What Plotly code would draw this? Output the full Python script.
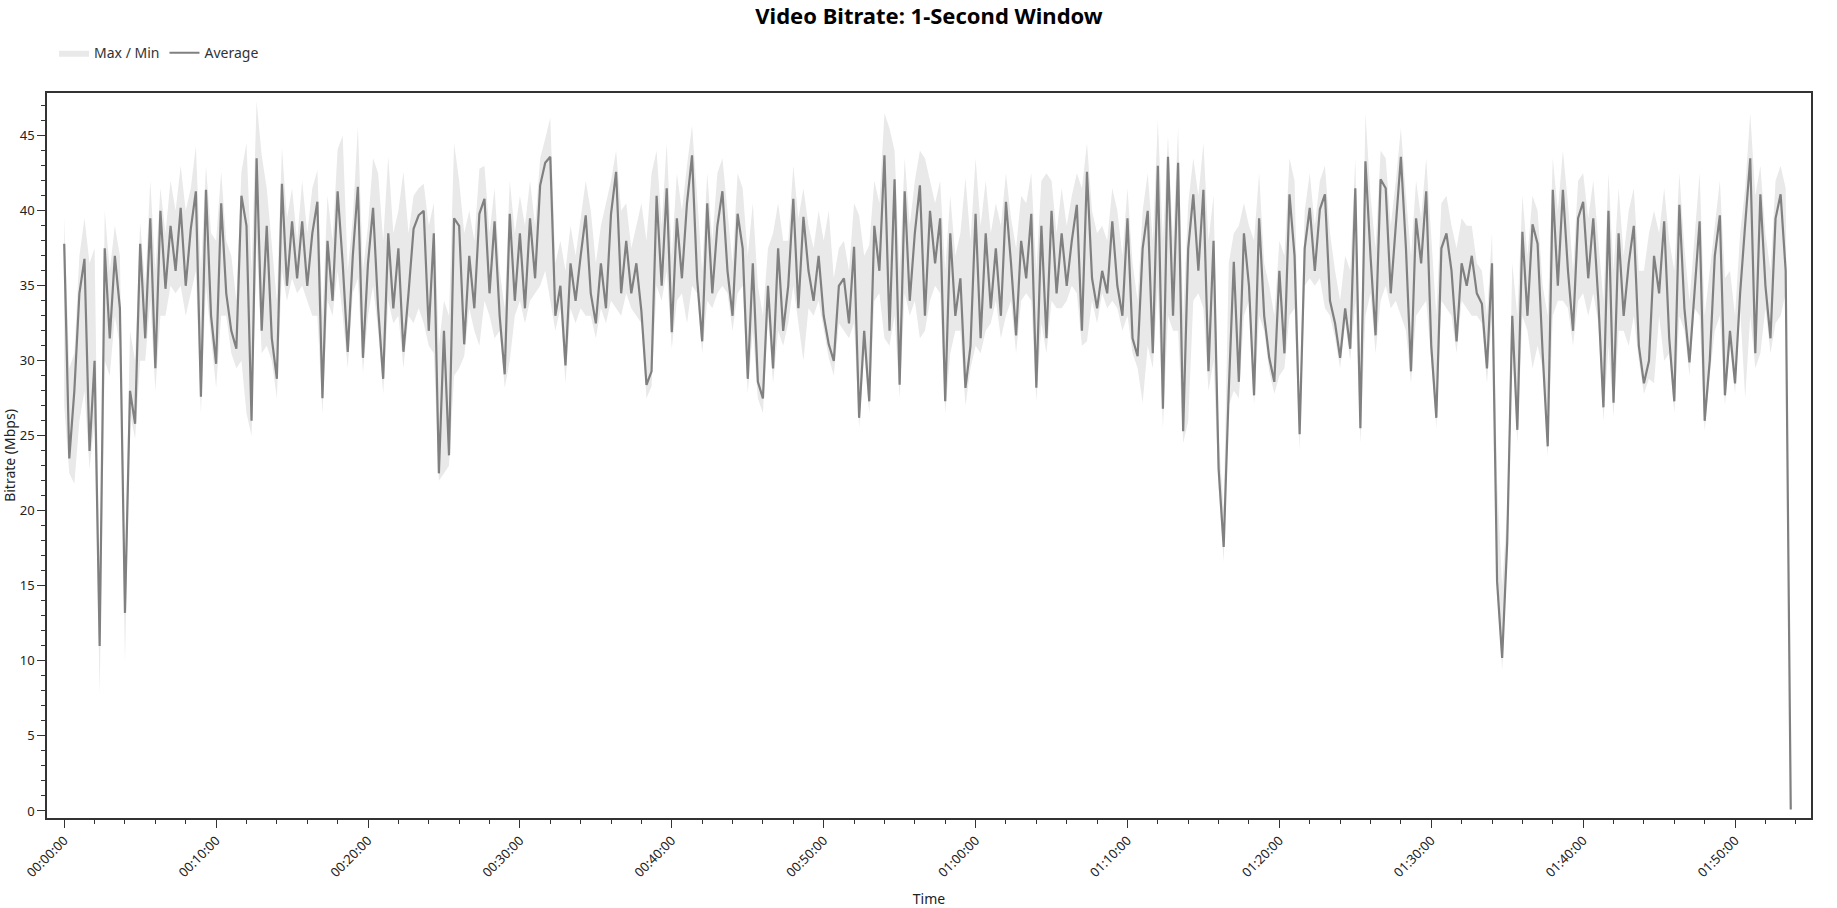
import pandas as pd
import plotly.graph_objects as go

STEP_SECONDS = 20

avg_mbps = [
    37.8, 23.5, 28.0, 34.5, 36.8, 24.0, 30.0, 11.0, 37.5, 31.5, 37.0, 33.5, 13.2, 28.0, 25.8, 37.8, 31.5, 39.5,
    29.5, 40.0, 34.8, 39.0, 36.0, 40.2, 35.0, 38.8, 41.3, 27.6, 41.4, 33.0, 29.8, 40.5, 34.5, 32.0, 30.8,
    41.0, 39.0, 26.0, 43.5, 32.0, 39.0, 31.5, 28.8, 41.8, 35.0, 39.3, 35.5, 39.3, 35.0, 38.5, 40.6, 27.5, 38.0,
    34.0, 41.3, 36.5, 30.6, 37.0, 41.6, 30.2, 36.5, 40.2, 33.5, 28.8, 38.5, 33.5, 37.5, 30.6, 34.5, 38.8, 39.7,
    40.0, 32.0, 38.5, 22.5, 32.0, 23.7, 39.5, 39.0, 31.1, 37.0, 33.5, 39.8, 40.8, 34.5, 39.3, 33.0, 29.1,
    39.8, 34.0, 38.5, 33.5, 39.5, 35.5, 41.7, 43.2, 43.6, 33.0, 35.0, 29.7, 36.5, 34.0, 37.0, 39.7, 34.5,
    32.5, 36.5, 33.5, 39.8, 42.6, 34.5, 38.0, 34.5, 36.5, 33.3, 28.4, 29.3, 41.0, 35.0, 41.5, 31.9, 39.5, 35.5,
    40.5, 43.7, 35.5, 31.3, 40.5, 34.5, 39.0, 41.3, 36.0, 33.0, 39.8, 37.5, 28.8, 36.5, 28.6, 27.5, 35.0,
    29.5, 37.5, 32.0, 35.0, 40.8, 33.5, 39.6, 36.0, 34.0, 37.0, 33.0, 31.1, 30.0, 35.0, 35.5, 32.5, 37.6, 26.2,
    32.0, 27.3, 39.0, 36.0, 43.7, 32.0, 42.1, 28.4, 41.3, 34.0, 38.5, 41.7, 33.0, 40.0, 36.5, 39.5, 27.3,
    38.5, 33.0, 35.5, 28.2, 31.0, 39.8, 31.5, 38.5, 33.5, 37.5, 33.0, 40.6, 36.5, 31.7, 38.0, 35.5, 39.8,
    28.2, 39.0, 31.5, 40.0, 34.5, 38.5, 35.0, 38.0, 40.4, 32.0, 42.6, 35.5, 33.5, 36.0, 34.5, 39.3, 35.0,
    33.0, 39.5, 31.5, 30.3, 37.5, 40.0, 30.5, 43.0, 26.8, 43.6, 33.0, 43.2, 25.3, 37.5, 41.1, 36.0, 41.4, 29.3,
    38.0, 22.8, 17.6, 28.0, 36.6, 28.6, 38.5, 35.0, 27.7, 39.5, 33.0, 30.2, 28.6, 36.0, 30.5, 41.1, 37.0,
    25.1, 37.5, 40.2, 36.0, 40.1, 41.1, 34.0, 32.5, 30.2, 33.5, 30.8, 41.5, 25.5, 43.3, 37.0, 31.7, 42.1,
    41.5, 34.5, 39.0, 43.6, 37.5, 29.3, 39.5, 36.5, 41.3, 31.0, 26.2, 37.5, 38.5, 36.0, 31.3, 36.5, 35.0,
    37.0, 34.5, 33.8, 29.5, 36.5, 15.3, 10.2, 17.9, 33.0, 25.4, 38.6, 33.0, 39.1, 37.8, 30.5, 24.3, 41.4, 35.0,
    41.4, 36.0, 32.0, 39.5, 40.6, 35.5, 39.5, 34.0, 26.9, 40.0, 27.2, 38.5, 33.0, 36.5, 39.0, 31.0, 28.5,
    30.0, 37.0, 34.5, 39.3, 31.5, 27.3, 40.4, 33.5, 29.9, 34.5, 39.3, 26.0, 30.0, 37.0, 39.7,
    27.7, 32.0, 28.5, 34.5, 39.1, 43.5, 30.5, 41.1, 35.0, 31.5, 39.5, 41.1, 36.0, 0.1,
]

max_mbps = [
    39.6, 29.5, 30.5, 37.0, 39.5, 36.5, 37.5, 14.0, 40.0, 36.0, 39.0, 37.0, 16.0, 32.0, 30.0, 39.2, 35.0, 42.0,
    36.0, 41.5, 38.5, 42.0, 40.0, 43.0, 40.0, 41.5, 44.3, 36.0, 43.0, 38.5, 38.0, 42.6, 38.0, 37.0, 34.0,
    42.6, 44.5, 36.0, 47.3, 43.7, 41.5, 38.0, 34.0, 44.2, 39.5, 41.5, 38.0, 42.0, 38.5, 41.5, 42.7, 33.0, 41.0,
    38.0, 44.1, 45.0, 36.0, 39.5, 45.6, 36.0, 39.0, 43.5, 42.5, 38.0, 43.6, 38.5, 40.0, 42.6, 38.5, 41.0, 41.5,
    41.8, 39.0, 40.5, 31.0, 34.0, 33.0, 44.5, 42.0, 38.5, 40.0, 38.0, 42.8, 43.0, 38.5, 41.5, 36.0, 33.5,
    42.0, 38.5, 41.0, 39.0, 42.0, 39.0, 43.5, 44.8, 46.2, 36.5, 38.0, 36.0, 39.0, 37.0, 39.5, 42.0, 40.0,
    36.5, 39.0, 40.5, 42.0, 44.0, 40.0, 40.5, 37.5, 39.0, 40.5, 38.0, 42.5, 44.0, 39.0, 44.5, 37.0, 42.5, 40.0,
    43.0, 45.7, 41.0, 36.0, 42.5, 38.0, 42.5, 43.5, 40.0, 36.5, 42.5, 41.5, 37.0, 40.5, 35.0, 33.0, 37.5,
    38.5, 40.5, 38.0, 38.0, 43.0, 39.5, 41.5, 39.0, 37.5, 40.0, 38.0, 40.0, 35.5, 37.5, 38.0, 36.0, 40.5, 39.7,
    37.0, 37.7, 42.0, 40.5, 46.5, 45.5, 44.0, 36.0, 43.5, 39.0, 42.0, 44.0, 43.5, 42.0, 40.5, 42.0, 36.0,
    41.0, 37.0, 38.5, 42.2, 38.0, 43.5, 39.0, 42.0, 38.5, 40.5, 39.0, 42.5, 39.5, 37.5, 41.0, 40.5, 42.5,
    36.0, 42.0, 42.5, 42.0, 38.5, 41.5, 39.0, 41.0, 42.5, 41.5, 44.5, 40.0, 38.5, 39.0, 38.0, 41.5, 40.0,
    37.0, 41.5, 36.5, 34.0, 40.0, 42.5, 38.0, 46.0, 38.0, 45.0, 38.0, 45.5, 33.0, 40.5, 43.5, 41.0, 44.5, 38.0,
    41.0, 25.0, 20.0, 36.5, 38.5, 39.0, 40.5, 39.0, 38.0, 42.5, 36.5, 35.0, 33.0, 38.0, 37.0, 43.5, 42.0,
    27.0, 40.0, 42.5, 39.0, 42.0, 43.0, 38.5, 36.0, 34.0, 37.0, 36.0, 43.5, 27.0, 46.5, 41.0, 37.5, 44.0,
    43.5, 39.0, 42.0, 45.5, 41.0, 37.0, 42.0, 39.5, 43.5, 38.0, 33.0, 40.5, 41.0, 39.0, 37.5, 39.5, 39.0,
    39.0, 36.5, 36.0, 33.0, 38.5, 22.0, 15.0, 20.0, 36.5, 33.0, 41.0, 37.0, 41.0, 40.0, 35.0, 33.0, 43.5, 40.0,
    44.0, 40.5, 36.0, 42.0, 42.5, 39.5, 42.0, 38.0, 34.0, 42.5, 36.0, 41.5, 37.0, 40.0, 41.5, 36.0, 36.0,
    38.5, 40.0, 38.5, 41.5, 38.0, 36.0, 42.5, 37.5, 34.0, 38.0, 42.5, 33.0, 36.0, 39.0, 42.0,
    35.5, 36.0, 33.0, 38.5, 41.5, 46.5, 41.0, 43.0, 38.5, 36.0, 42.0, 43.0, 41.5, 0.1,
]

min_mbps = [
    27.0, 22.5, 21.8, 26.0, 28.0, 22.8, 26.0, 7.8, 30.0, 29.0, 33.0, 31.0, 9.9, 26.5, 24.8, 30.0, 30.0, 34.0,
    28.0, 33.0, 33.0, 35.0, 34.5, 35.0, 33.0, 34.5, 36.0, 26.5, 35.0, 31.5, 28.2, 33.0, 33.0, 30.5, 29.5,
    30.0, 26.5, 25.0, 38.0, 30.5, 31.0, 30.0, 27.5, 36.0, 34.0, 35.5, 34.5, 35.0, 34.0, 33.0, 33.0, 26.5, 34.0,
    33.0, 36.0, 33.0, 29.5, 34.5, 35.5, 29.2, 33.0, 35.0, 32.0, 27.8, 34.0, 32.5, 33.0, 29.5, 33.0, 32.5, 33.5,
    32.5, 31.0, 30.5, 22.0, 22.5, 23.0, 29.0, 29.5, 30.3, 33.5, 32.0, 31.0, 34.0, 33.0, 31.5, 32.0, 28.2,
    30.0, 33.0, 34.0, 32.5, 34.0, 34.5, 35.0, 36.0, 34.0, 32.0, 33.5, 28.5, 33.5, 32.5, 33.5, 33.0, 33.0,
    31.5, 33.5, 32.5, 34.0, 33.5, 33.0, 34.5, 33.5, 33.0, 32.5, 27.5, 28.3, 35.0, 34.0, 36.0, 30.8, 34.0, 34.5,
    32.5, 35.0, 34.5, 30.5, 34.0, 33.5, 34.5, 35.0, 34.5, 32.0, 34.5, 35.0, 27.8, 32.0, 27.5, 26.5, 33.0,
    28.5, 32.0, 31.0, 32.5, 35.0, 32.5, 30.0, 33.5, 33.0, 34.0, 32.0, 30.2, 29.0, 32.5, 32.0, 31.5, 32.5, 25.5,
    30.5, 26.5, 34.0, 34.5, 31.5, 31.0, 33.0, 27.5, 34.5, 33.0, 34.0, 31.5, 32.0, 34.0, 35.0, 34.5, 26.5,
    30.5, 32.0, 32.0, 27.0, 29.5, 31.0, 30.5, 32.0, 32.5, 34.0, 31.5, 33.0, 34.0, 30.5, 34.0, 34.5, 34.0,
    27.3, 32.5, 30.5, 34.0, 33.5, 33.5, 34.0, 35.0, 34.5, 31.0, 31.3, 34.0, 32.5, 34.5, 33.5, 34.0, 33.5,
    32.0, 33.0, 30.5, 29.5, 27.2, 31.0, 29.5, 35.0, 25.5, 33.0, 32.0, 32.0, 24.5, 26.0, 34.0, 34.5, 33.5, 28.0,
    30.0, 21.5, 16.6, 27.0, 28.0, 27.5, 33.0, 34.0, 27.0, 33.0, 32.0, 29.3, 27.8, 29.0, 29.5, 33.0, 33.5,
    24.0, 35.0, 35.5, 35.0, 35.5, 33.5, 33.0, 31.5, 29.5, 32.5, 30.0, 34.0, 24.5, 33.0, 34.5, 30.5, 34.0,
    35.0, 33.5, 34.0, 33.0, 32.0, 28.5, 33.0, 33.5, 34.0, 30.0, 25.5, 34.0, 33.5, 33.0, 30.5, 34.0, 33.5,
    33.0, 33.0, 32.5, 28.5, 33.0, 14.5, 9.4, 16.9, 31.0, 24.5, 33.0, 32.0, 29.5, 31.0, 29.5, 23.6, 33.0, 34.0,
    34.0, 33.5, 31.0, 34.0, 34.5, 33.0, 34.5, 32.5, 26.0, 31.0, 26.3, 32.0, 32.0, 31.0, 33.0, 30.0, 27.8,
    28.8, 28.5, 33.0, 30.0, 30.5, 26.5, 33.0, 32.0, 29.0, 33.5, 33.0, 25.3, 29.0, 32.0, 33.0,
    27.0, 31.0, 27.8, 33.5, 27.5, 33.0, 29.5, 30.5, 33.5, 30.5, 32.5, 33.0, 34.5, 0.0,
]

seconds = [i * STEP_SECONDS for i in range(len(avg_mbps))]
times = pd.to_datetime(seconds, unit="s")

fig = go.Figure()
fig.add_trace(go.Scatter(x=times, y=max_mbps, mode="lines", line=dict(width=0, color="#e9e9e9"),
                         showlegend=False, hoverinfo="skip"))
fig.add_trace(go.Scatter(x=times, y=min_mbps, mode="lines", line=dict(width=0, color="#e9e9e9"),
                         fill="tonexty", fillcolor="#e9e9e9", name="Max / Min"))
fig.add_trace(go.Scatter(x=times, y=avg_mbps, mode="lines", line=dict(width=2.2, color="#808080"),
                         name="Average"))

fig.update_layout(
    template="none",
    width=1837, height=908,
    margin=dict(l=47, r=26, t=93, b=90),
    paper_bgcolor="white", plot_bgcolor="white",
    font=dict(family="Noto Sans, sans-serif", size=13, color="#222"),
    title=dict(text="Video Bitrate: 1-Second Window", x=0.5, xref="paper", xanchor="center",
               y=0.982, yref="container", yanchor="middle",
               font=dict(size=22, color="#000", weight="bold")),
    legend=dict(orientation="h", traceorder="normal", x=0.004, xanchor="left", y=1.055, yanchor="middle",
                font=dict(size=14, color="#333")),
)

fig.update_xaxes(
    type="date", range=["1969-12-31 23:58:52", "1970-01-01 01:55:00"],
    tick0="1970-01-01 00:00:00", dtick=600000, tickformat="%H:%M:%S", tickangle=-45,
    ticks="outside", ticklen=8, tickwidth=1.2, tickcolor="#333", tickfont=dict(size=13),
    minor=dict(dtick=120000, ticks="outside", ticklen=4, tickwidth=1, tickcolor="#333", showgrid=False),
    showline=True, linecolor="#333", linewidth=1.5, mirror=True,
    showgrid=False, zeroline=False,
    title=dict(text="Time", standoff=16, font=dict(size=14)),
)
fig.update_yaxes(
    range=[-0.47, 47.85], tick0=0, dtick=5,
    ticks="outside", ticklen=8, tickwidth=1.2, tickcolor="#333", tickfont=dict(size=13),
    minor=dict(dtick=1, ticks="outside", ticklen=4, tickwidth=1, tickcolor="#333", showgrid=False),
    showline=True, linecolor="#333", linewidth=1.5, mirror=True,
    showgrid=False, zeroline=False,
    title=dict(text="Bitrate (Mbps)", standoff=6, font=dict(size=14)),
)

# drop the default page margin so the figure sits at the window's corner
fig.write_html("out.html", config={"displayModeBar": False},
               post_script="document.body.style.margin='0';document.body.style.overflow='hidden';")
